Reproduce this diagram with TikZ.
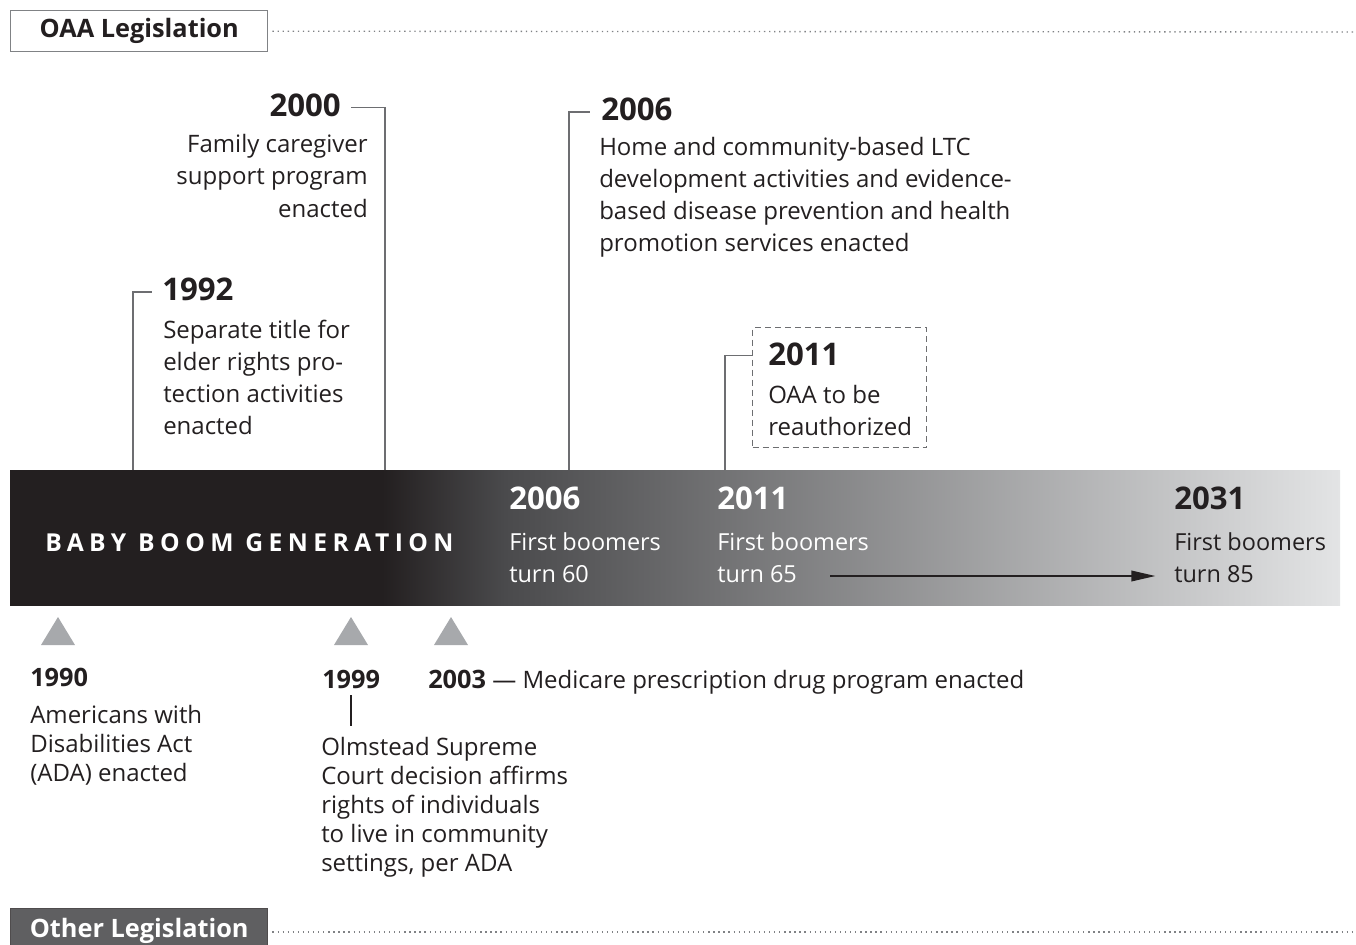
\documentclass[tikz,border=0pt]{standalone}
\usepackage{fontspec}
\setmainfont{Open Sans}
\usetikzlibrary{arrows.meta}
\definecolor{ink}{HTML}{231F20}
\definecolor{connc}{HTML}{6D6E71}
\definecolor{tric}{HTML}{A7A9AC}
\definecolor{barA}{HTML}{231F20}
\definecolor{barB}{HTML}{4A4A4C}
\definecolor{barC}{HTML}{E3E4E5}
\definecolor{otherfill}{HTML}{5F5F61}
\definecolor{dotc}{HTML}{808285}
\pgfdeclarehorizontalshading{barshade}{100bp}{color(0bp)=(barA); color(39bp)=(barA); color(43.6bp)=(barB); color(75bp)=(barC); color(100bp)=(barC)}
\begin{document}
\begin{tikzpicture}[x=0.75pt,y=-0.75pt,
  yr/.style={font=\fontsize{23.4}{28}\selectfont\bfseries, text=ink, inner sep=0pt},
  txt/.style={font=\fontsize{18}{24}\selectfont, text=ink, inner sep=0pt},
  bartxt/.style={font=\fontsize{17.6}{24}\selectfont, text=white, inner sep=0pt},
  yrs/.style={font=\fontsize{19}{22}\selectfont\bfseries, text=ink, inner sep=0pt},
  txts/.style={font=\fontsize{18}{21.75}\selectfont, text=ink, inner sep=0pt},
  connector/.style={draw=connc, line width=1.2pt},
  dotline/.style={draw=dotc, line width=1pt, dash pattern=on 1pt off 2.8pt},
  marker/.style={fill=tric, draw=none},
  hdrbox/.style={anchor=north west, minimum width=192.75pt, minimum height=30.75pt, inner sep=0pt, line width=1.1pt, font=\fontsize{19}{22}\selectfont\bfseries}
]
\useasboundingbox (0,0) rectangle (1356,945);
\clip (0,0) rectangle (1356,945);

% header boxes
\node[hdrbox, draw=dotc, fill=white, text=ink] (oaa) at (10,10) {OAA Legislation};
\coordinate (oaaend) at (1356,32);
\draw[dotline] ([xshift=3pt]oaa.east) -- (oaaend);

\node[hdrbox, draw=ink!80, fill=otherfill, text=white, minimum height=33.75pt] (other) at (10,908) {Other Legislation};
\coordinate (otherend) at (1356,932);
\draw[dotline] ([xshift=3pt]other.east |- otherend) -- (otherend);

% bar
\shade[shading=barshade] (10,470) rectangle (1340,605);
\coordinate (b1992) at (133,470);
\coordinate (b2000) at (385,470);
\coordinate (b2006) at (569,470);
\coordinate (b2011) at (725,470);

\node[anchor=base west, inner sep=0pt, text=white, font=\fontsize{18.5}{20}\selectfont\bfseries\addfontfeature{LetterSpace=22}] (bbg) at (45,551) {BABY BOOM GENERATION};

\node[yr, text=white, anchor=base west] (y06b) at (509,509) {2006};
\node[bartxt, anchor=base west] (t06b) at (509,550) {\parbox[t]{200pt}{\raggedright First boomers\\turn 60}};
\node[yr, text=white, anchor=base west] (y11b) at (717,509) {2011};
\node[bartxt, anchor=base west] (t11b) at (717,550) {\parbox[t]{200pt}{\raggedright First boomers\\turn 65}};
\node[yr, anchor=base west] (y31b) at (1174,509) {2031};
\node[bartxt, text=ink, anchor=base west] (t31b) at (1174,550) {\parbox[t]{200pt}{\raggedright First boomers\\turn 85}};
\coordinate (arrS) at (830,576);
\draw[draw=ink, line width=1.1pt, -{Triangle[length=18pt,width=8pt]}] (arrS) -- ([xshift=-14pt]t31b.west |- arrS);

% 1992
\node[yr, anchor=base west] (y1992) at (162,300) {1992};
\node[txt, anchor=base west] (t1992) at (163,338) {\parbox[t]{300pt}{\raggedright Separate title for\\elder rights pro-\\tection activities\\enacted}};
\draw[connector] (b1992) |- ([xshift=-7.5pt,yshift=3.5pt]y1992.mid west);

% 2000
\node[yr, anchor=base east] (y2000) at (341,117) {2000};
\node[txt, anchor=base east] (t2000) at (368,153) {\parbox[t]{300pt}{\raggedleft Family caregiver\\support program\\enacted}};
\draw[connector] (b2000) |- ([xshift=7.5pt,yshift=4.5pt]y2000.mid east);

% 2006
\node[yr, anchor=base west] (y2006) at (601,121) {2006};
\node[txt, anchor=base west] (t2006) at (599,156) {\parbox[t]{400pt}{\raggedright Home and community-based LTC\\development activities and evidence-\\based disease prevention and health\\promotion services enacted}};
\draw[connector] (b2006) |- ([xshift=-8pt,yshift=4pt]y2006.mid west);

% 2011
\node[draw=connc, line width=1.1pt, dash pattern=on 4.5pt off 3pt, anchor=north west, minimum width=130.5pt, minimum height=90pt, inner sep=0pt] (box11) at (752,327) {};
\node[yr, anchor=base west] (y2011) at (768,365) {2011};
\node[txt, anchor=base west] (t2011) at (768,403) {\parbox[t]{200pt}{\raggedright OAA to be\\reauthorized}};
\draw[connector] (b2011) |- ([yshift=4.5pt]box11.west |- y2011.mid west);

% markers
\fill[marker] (41,645) -- (58,617) -- (75,645) -- cycle;
\fill[marker] (334,645) -- (351,617) -- (368,645) -- cycle;
\fill[marker] (434,645) -- (451,617) -- (468,645) -- cycle;

% 1990
\node[yrs, anchor=base west] (y1990) at (30,686) {1990};
\node[txts, anchor=base west] (t1990) at (30,723) {\parbox[t]{300pt}{\raggedright Americans with\\Disabilities Act\\(ADA) enacted}};

% 1999
\node[yrs, anchor=base west] (y1999) at (322,688) {1999};
\node[txts, anchor=base west] (t1999) at (321,755) {\parbox[t]{300pt}{\raggedright Olmstead Supreme\\Court decision affirms\\rights of individuals\\to live in community\\settings, per ADA}};
\draw[draw=ink, line width=0.8pt] ([yshift=-5pt]y1999.south -| 351,0) -- ([yshift=8pt]t1999.north -| 351,0);

% 2003
\node[txts, anchor=base west] (t2003) at (428,688) {{\fontsize{19}{22}\selectfont\bfseries 2003} — Medicare prescription drug program enacted};
\end{tikzpicture}
\end{document}
